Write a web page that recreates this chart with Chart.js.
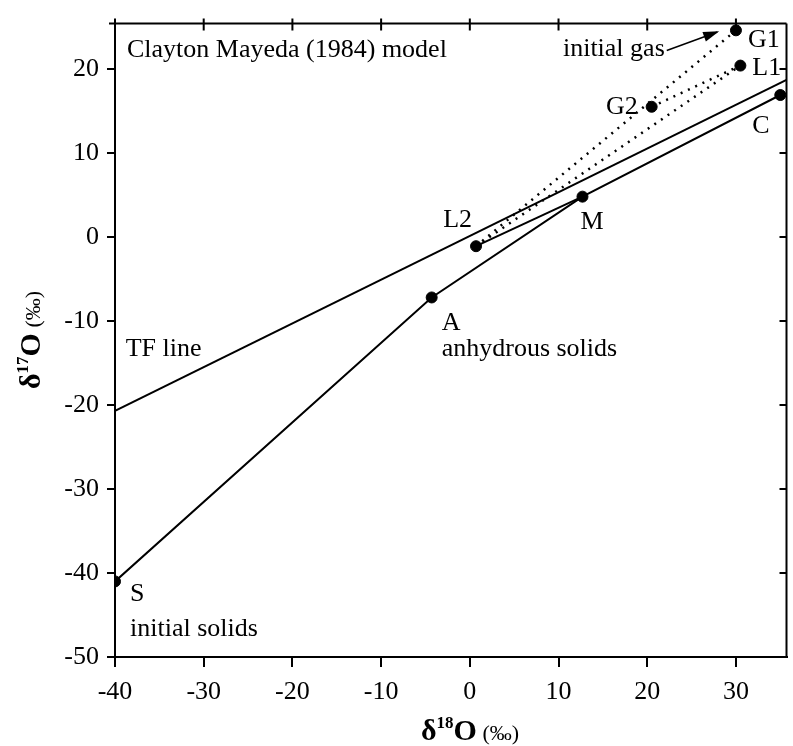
<!DOCTYPE html>
<html>
<head>
<meta charset="utf-8">
<script src="https://cdn.jsdelivr.net/npm/chart.js@4/dist/chart.umd.min.js"></script>
<style>
  html, body { margin: 0; padding: 0; background: #fff; }
</style>
</head>
<body>
<canvas id="chart" width="793" height="746"></canvas>
<script>
// points (delta 18O, delta 17O in permil)
const pointNames = ["S", "A", "M", "C", "L2", "G2", "L1", "G1"];
const d18O = [-40, -4.3, 12.7, 35, 0.7, 20.5, 30.5, 30];
const d17O = [-41, -7.2, 4.8, 16.9, -1.1, 15.5, 20.4, 24.6];

// terrestrial fractionation line end points
const tfX = [-40, 35.7];
const tfY = [-20.7, 18.7];

// which points are joined
const solidPath = ["S", "A", "M", "C"];
const solidPath2 = ["L2", "M"];
const dottedPairs = [["L2", "G1"], ["L2", "L1"], ["G2", "L1"]];

const xTicks = [-40, -30, -20, -10, 0, 10, 20, 30];
const yTicks = [-50, -40, -30, -20, -10, 0, 10, 20];

const pt = name => {
  const i = pointNames.indexOf(name);
  return { x: d18O[i], y: d17O[i] };
};

const serif = "'Liberation Serif', 'DejaVu Serif', serif";

// text labels: [text, point, dx, dy, align]
const pointLabels = [
  ["G1", "G1", 12, 10, "left"],
  ["L1", "L1", 12, 3, "left"],
  ["G2", "G2", -14, 0, "right"],
  ["C", "C", -28, 31, "left"],
  ["L2", "L2", -4, -26, "right"],
  ["M", "M", -2, 26, "left"],
  ["A", "A", 10, 26, "left"],
  ["anhydrous solids", "A", 10, 52, "left"],
  ["S", "S", 15, 13, "left"],
  ["initial solids", "S", 15, 48, "left"]
];

const frameAndLabels = {
  id: "frameAndLabels",
  afterDatasetsDraw(chart) {
    const { ctx, chartArea: a, scales: { x, y } } = chart;
    ctx.save();
    ctx.strokeStyle = "#000";
    ctx.lineWidth = 2;
    // top and right axes with inward ticks
    ctx.beginPath();
    ctx.moveTo(a.left - 6, a.top); ctx.lineTo(a.right, a.top);
    ctx.moveTo(a.right, a.top); ctx.lineTo(a.right, a.bottom);
    xTicks.forEach(v => {
      const px = x.getPixelForValue(v);
      ctx.moveTo(px, a.top - 5); ctx.lineTo(px, a.top + 7);
    });
    yTicks.forEach(v => {
      const py = y.getPixelForValue(v);
      ctx.moveTo(a.right, py); ctx.lineTo(a.right - 7, py);
    });
    ctx.stroke();

    ctx.fillStyle = "#000";
    ctx.font = "26px " + serif;
    ctx.textBaseline = "middle";
    ctx.textAlign = "left";
    ctx.fillText("Clayton Mayeda (1984) model", a.left + 12, a.top + 27);

    pointLabels.forEach(([text, name, dx, dy, align]) => {
      const p = pt(name);
      ctx.textAlign = align;
      ctx.fillText(text, x.getPixelForValue(p.x) + dx, y.getPixelForValue(p.y) + dy);
    });
    ctx.textAlign = "left";
    ctx.fillText("TF line", x.getPixelForValue(-38.8), y.getPixelForValue(-13.3));

    // "initial gas" with arrow to G1
    const ax0 = x.getPixelForValue(22.2), ay0 = y.getPixelForValue(22.2);
    const ax1 = x.getPixelForValue(27.9), ay1 = y.getPixelForValue(24.4);
    ctx.textAlign = "right";
    ctx.fillText("initial gas", ax0 - 2, ay0 - 1);
    ctx.lineWidth = 1.5;
    ctx.beginPath(); ctx.moveTo(ax0, ay0); ctx.lineTo(ax1, ay1); ctx.stroke();
    const ang = Math.atan2(ay1 - ay0, ax1 - ax0);
    ctx.beginPath();
    ctx.moveTo(ax1 + 2 * Math.cos(ang), ay1 + 2 * Math.sin(ang));
    ctx.lineTo(ax1 - 14 * Math.cos(ang) + 5 * Math.sin(ang), ay1 - 14 * Math.sin(ang) - 5 * Math.cos(ang));
    ctx.lineTo(ax1 - 14 * Math.cos(ang) - 5 * Math.sin(ang), ay1 - 14 * Math.sin(ang) + 5 * Math.cos(ang));
    ctx.closePath(); ctx.fill();

    // axis titles with superscripts
    const rich = (parts, cx, cy) => {
      let w = 0;
      parts.forEach(p => { ctx.font = p[1]; w += ctx.measureText(p[0]).width; });
      let cur = cx - w / 2;
      ctx.textAlign = "left";
      ctx.textBaseline = "alphabetic";
      parts.forEach(p => {
        ctx.font = p[1];
        ctx.fillText(p[0], cur, cy + p[2]);
        cur += ctx.measureText(p[0]).width;
      });
    };
    const parts = n => [
      ["δ", "bold 30px " + serif, 0],
      [n, "bold 17px " + serif, -12],
      ["O", "bold 30px " + serif, 0],
      [" (‰)", "22px " + serif, 0]
    ];
    rich(parts("18"), 470, 740);
    ctx.save();
    ctx.translate(40, 340);
    ctx.rotate(-Math.PI / 2);
    rich(parts("17"), 0, 0);
    ctx.restore();
    ctx.restore();
  }
};

const datasets = [
  {
    data: solidPath.map(pt), showLine: true, borderColor: "#000", borderWidth: 2,
    pointRadius: 0
  },
  {
    data: solidPath2.map(pt), showLine: true, borderColor: "#000", borderWidth: 2,
    pointRadius: 0
  },
  {
    data: tfX.map((v, i) => ({ x: v, y: tfY[i] })), showLine: true,
    borderColor: "#000", borderWidth: 2, pointRadius: 0
  }
];
dottedPairs.forEach(pair => {
  datasets.push({
    data: pair.map(pt), showLine: true, borderColor: "#000", borderWidth: 2.5,
    borderDash: [2, 6], pointRadius: 0
  });
});
datasets.push({
  data: pointNames.map(pt), showLine: false, pointRadius: 5.5,
  pointBackgroundColor: "#000", pointBorderColor: "#000"
});

new Chart(document.getElementById("chart"), {
  type: "scatter",
  data: { datasets },
  options: {
    responsive: false,
    animation: false,
    layout: { padding: { left: 0, right: 1, top: 16, bottom: 0 } },
    plugins: { legend: { display: false }, tooltip: { enabled: false } },
    scales: {
      x: {
        type: "linear", min: -40, max: 35.7,
        afterBuildTicks: s => { s.ticks = xTicks.map(v => ({ value: v })); },
        afterFit: s => { s.height = 89; },
        ticks: { color: "#000", font: { family: serif, size: 26 }, padding: 10, maxRotation: 0 },
        grid: { drawOnChartArea: false, color: "#000", lineWidth: 2, tickLength: 10 },
        border: { color: "#000", width: 2 }
      },
      y: {
        type: "linear", min: -50, max: 25.4,
        afterBuildTicks: s => { s.ticks = yTicks.map(v => ({ value: v })); },
        afterFit: s => { s.width = 115; },
        ticks: { color: "#000", font: { family: serif, size: 26 }, padding: 8 },
        grid: { drawOnChartArea: false, color: "#000", lineWidth: 2, tickLength: 8 },
        border: { color: "#000", width: 2 }
      }
    }
  },
  plugins: [frameAndLabels]
});
</script>
</body>
</html>
